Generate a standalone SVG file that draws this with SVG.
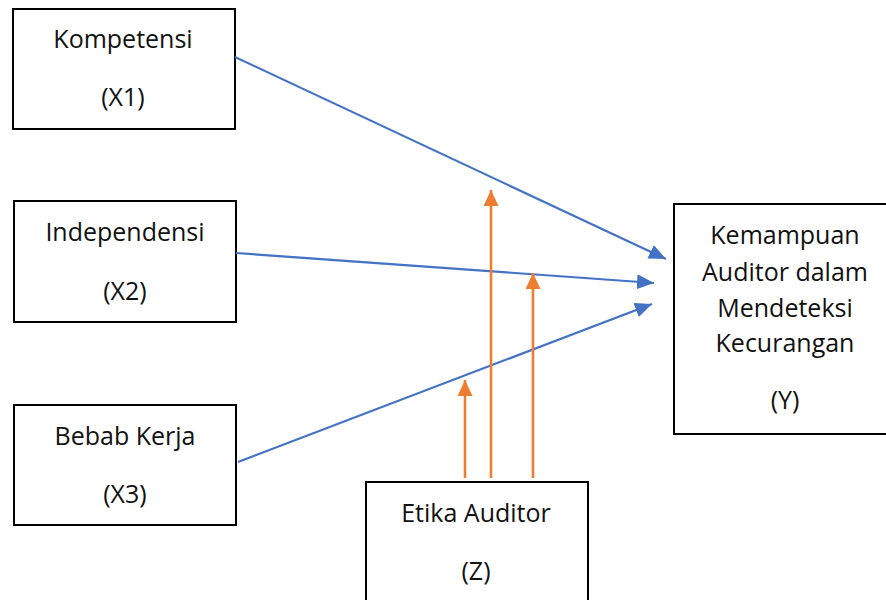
<svg xmlns="http://www.w3.org/2000/svg" width="886" height="600" viewBox="0 0 886 600">
<style>
.box{fill:#fff;stroke:#000;stroke-width:2}
text{font-family:"Open Sans","Noto Sans","Liberation Sans",sans-serif;font-size:25px;fill:#111;text-anchor:middle}
.b{stroke:#4472C4;stroke-width:2.2;fill:none}
.o{stroke:#ED7D31;stroke-width:2.6;fill:none}
</style>
<defs>
<marker id="ab" viewBox="0 0 17 15" refX="17" refY="7.5" markerWidth="17" markerHeight="15" markerUnits="userSpaceOnUse" orient="auto"><path d="M0,0 L17,7.5 L0,15 z" fill="#4472C4"/></marker>
<marker id="ao" viewBox="0 0 16 15" refX="16" refY="7.5" markerWidth="16" markerHeight="15" markerUnits="userSpaceOnUse" orient="auto"><path d="M0,0 L16,7.5 L0,15 z" fill="#ED7D31"/></marker>
</defs>
<rect width="886" height="600" fill="#fff"/>
<g id="x1"><rect class="box" x="13" y="9" width="222" height="120"/><text x="123" y="48">Kompetensi</text><text x="123" y="106">(X1)</text></g>
<g id="x2"><rect class="box" x="14" y="201" width="222" height="121"/><text x="125" y="241">Independensi</text><text x="125" y="300">(X2)</text></g>
<g id="x3"><rect class="box" x="14" y="405" width="222" height="120"/><text x="125" y="445">Bebab Kerja</text><text x="125" y="503">(X3)</text></g>
<g id="y"><rect class="box" x="674" y="204" width="214" height="230"/><text x="785" y="244">Kemampuan</text><text x="785" y="281">Auditor dalam</text><text x="785" y="317">Mendeteksi</text><text x="785" y="352">Kecurangan</text><text x="785" y="409">(Y)</text></g>
<g id="z"><rect class="box" x="366" y="482" width="222" height="122"/><text x="476" y="522">Etika Auditor</text><text x="476" y="580">(Z)</text></g>
<g id="connectors">
<line class="b" x1="235" y1="57" x2="666" y2="259" marker-end="url(#ab)"/>
<line class="b" x1="236" y1="253" x2="654" y2="283" marker-end="url(#ab)"/>
<line class="b" x1="238" y1="462" x2="652" y2="304" marker-end="url(#ab)"/>
<line class="o" x1="465" y1="478" x2="465" y2="380" marker-end="url(#ao)"/>
<line class="o" x1="491" y1="478" x2="491" y2="190" marker-end="url(#ao)"/>
<line class="o" x1="533" y1="478" x2="533" y2="273" marker-end="url(#ao)"/>
</g>
</svg>
